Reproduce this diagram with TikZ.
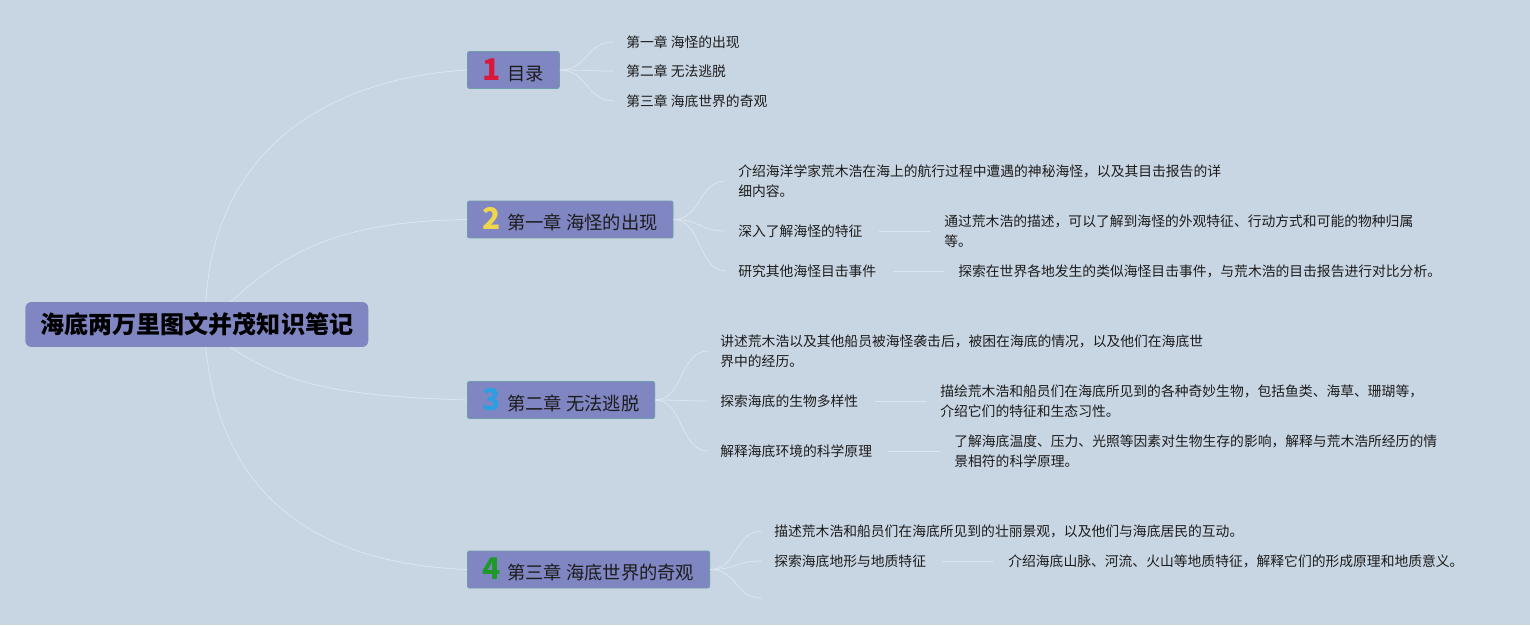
\documentclass[tikz,border=0pt]{standalone}
\usepackage{fontspec}
\setmainfont{Noto Sans CJK SC}
\usetikzlibrary{positioning}
\definecolor{cBg}{HTML}{C8D5E2}
\definecolor{cBox}{HTML}{8086C2}
\definecolor{cRim}{HTML}{6E9CA8}
\definecolor{cLink}{HTML}{DDE6EF}
\definecolor{cInk}{HTML}{1C1C1C}
\definecolor{cOne}{HTML}{D9183B}
\definecolor{cTwo}{HTML}{F0D64C}
\definecolor{cThree}{HTML}{2C9FE2}
\definecolor{cFour}{HTML}{1F9A2A}
\newcommand{\chnum}[2]{{\fontsize{17}{17}\selectfont\bfseries\color{#1}#2}\hspace{3.5pt}}
\tikzset{
  rootbox/.style={rounded corners=3.5pt,fill=cBox,text=black,inner xsep=.3cm,
    minimum height=.9cm,anchor=west,font=\fontsize{13.7}{16}\selectfont\bfseries},
  chapbox/.style={rounded corners=1.2pt,draw=cRim,line width=.5pt,fill=cBox,text=cInk,
    inner xsep=.31cm,inner ysep=0pt,minimum height=.74cm,anchor=west,
    font=\fontsize{10.4}{13}\selectfont},
  leaf/.style={anchor=west,inner sep=0pt,align=left,text=cInk,
    font=\fontsize{7.85}{11.4}\selectfont},
  link/.style={cLink,line width=.45pt},
}

\begin{document}
\begin{tikzpicture}[x=.02cm,y=-.02cm]
  % background, fixes the page
  \fill[cBg] (0,0) rectangle (1530,625);
  \useasboundingbox (0,0) rectangle (1530,625);

  \node[rootbox] (root) at (25,324.5) {海底两万里图文并茂知识笔记};

  % chapters
  \node[chapbox] (ch1) at (467,70) {\chnum{cOne}{1}目录};
  \node[chapbox] (ch2) at (467,219.5) {\chnum{cTwo}{2}第一章 海怪的出现};
  \node[chapbox] (ch3) at (467,400) {\chnum{cThree}{3}第二章 无法逃脱};
  \node[chapbox] (ch4) at (467,569.5) {\chnum{cFour}{4}第三章 海底世界的奇观};

  % 目录
  \node[leaf] (t1a) at (626,42) {第一章 海怪的出现};
  \node[leaf] (t1b) at (626,71) {第二章 无法逃脱};
  \node[leaf] (t1c) at (626,101) {第三章 海底世界的奇观};

  % chapter one
  \node[leaf] (t2a) at (738,181) {介绍海洋学家荒木浩在海上的航行过程中遭遇的神秘海怪，以及其目击报告的详\\细内容。};
  \node[leaf] (t2b) at (738,231) {深入了解海怪的特征};
  \node[leaf] (t2c) at (738,271) {研究其他海怪目击事件};
  \node[leaf] (g2b) at (944,231) {通过荒木浩的描述，可以了解到海怪的外观特征、行动方式和可能的物种归属\\等。};
  \node[leaf] (g2c) at (958,271) {探索在世界各地发生的类似海怪目击事件，与荒木浩的目击报告进行对比分析。};

  % chapter two
  \node[leaf] (t3a) at (720,351) {讲述荒木浩以及其他船员被海怪袭击后，被困在海底的情况，以及他们在海底世\\界中的经历。};
  \node[leaf] (t3b) at (720,401) {探索海底的生物多样性};
  \node[leaf] (t3c) at (720,451) {解释海底环境的科学原理};
  \node[leaf] (g3b) at (940,401) {描绘荒木浩和船员们在海底所见到的各种奇妙生物，包括鱼类、海草、珊瑚等，\\介绍它们的特征和生态习性。};
  \node[leaf] (g3c) at (954,451) {了解海底温度、压力、光照等因素对生物生存的影响，解释与荒木浩所经历的情\\景相符的科学原理。};

  % chapter three
  \node[leaf] (t4a) at (774,531) {描述荒木浩和船员们在海底所见到的壮丽景观，以及他们与海底居民的互动。};
  \node[leaf] (t4b) at (774,561) {探索海底地形与地质特征};
  \node[leaf] (g4b) at (1008,561) {介绍海底山脉、河流、火山等地质特征，解释它们的形成原理和地质意义。};
  \coordinate (t4c) at (762,598);

  % root to chapters
  \draw[link] ([xshift=.18cm]root.north) .. controls +(10,-160) and +(-130,8) .. (ch1.west);
  \draw[link] ([xshift=.68cm]root.north) .. controls +(60,-55) and +(-120,2) .. (ch2.west);
  \draw[link] ([xshift=.68cm]root.south) .. controls +(60,40) and +(-120,-4) .. (ch3.west);
  \draw[link] ([xshift=.18cm]root.south) .. controls +(15,150) and +(-150,-6) .. (ch4.west);

  % chapters to topics
  \foreach \c/\t in {ch1/t1a,ch1/t1b,ch1/t1c,ch2/t2a,ch2/t2b,ch2/t2c,
                     ch3/t3a,ch3/t3b,ch3/t3c,ch4/t4a,ch4/t4b}
    \draw[link] (\c.east) .. controls +(28,0) and +(-28,0) .. ([xshift=-.24cm]\t.west);
  \draw[link] (ch4.east) .. controls +(28,0) and +(-28,0) .. (t4c);

  % topics to details
  \foreach \a/\b in {t2b/g2b,t2c/g2c,t3b/g3b,t3c/g3c,t4b/g4b}
    \draw[link] ([xshift=.32cm]\a.east) -- ([xshift=-.28cm]\b.west);
\end{tikzpicture}
\end{document}
